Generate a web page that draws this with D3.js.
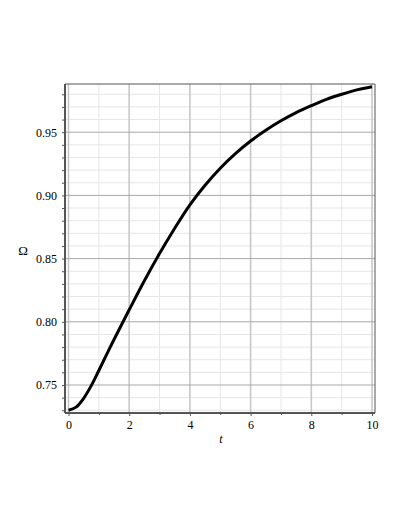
<!DOCTYPE html>
<html><head><meta charset="utf-8">
<script src="https://cdn.jsdelivr.net/npm/d3@7"></script>
<style>body{margin:0;background:#fff}svg{display:block}</style>
</head><body>
<script>
const tValues = [0,0.25,0.5,0.75,1,1.5,2,2.5,3,3.5,4,4.5,5,5.5,6,6.5,7,7.5,8,8.5,9,9.5,10];
const omegaValues = [0.7300,0.7325,0.7395,0.7495,0.7615,0.7860,0.8095,0.8325,0.8540,0.8740,0.8925,0.9080,0.9215,0.9330,0.9430,0.9515,0.9590,0.9655,0.9710,0.9760,0.9800,0.9835,0.9860];
const xTicks = [0,2,4,6,8,10];
const xMinor = [1,3,5,7,9];
const yTicks = [0.75,0.80,0.85,0.90,0.95];
const yTickLabels = ["0.75","0.80","0.85","0.90","0.95"];
const yMinor = [0.73,0.74,0.76,0.77,0.78,0.79,0.81,0.82,0.83,0.84,0.86,0.87,0.88,0.89,0.91,0.92,0.93,0.94,0.96,0.97,0.98];

const W=409,H=529;
const L=65,R=375,T=84,B=413;
const svg=d3.select("body").append("svg").attr("width",W).attr("height",H);
const x=d3.scaleLinear().domain([0,10]).range([68.5,372]);
const y=d3.scaleLinear().domain([0.75,0.95]).range([385,132.2]);

const g=svg.append("g");
g.selectAll(".vmin").data(xMinor).enter().append("line")
 .attr("x1",d=>x(d)).attr("x2",d=>x(d)).attr("y1",T).attr("y2",B)
 .attr("stroke","#e6e6e6").attr("stroke-width",1);
g.selectAll(".hmin").data(yMinor).enter().append("line")
 .attr("x1",L).attr("x2",R).attr("y1",d=>y(d)).attr("y2",d=>y(d))
 .attr("stroke","#e6e6e6").attr("stroke-width",1);
g.selectAll(".vmaj").data(xTicks).enter().append("line")
 .attr("x1",d=>x(d)).attr("x2",d=>x(d)).attr("y1",T).attr("y2",B)
 .attr("stroke","#c8c8c8").attr("stroke-width",1.6);
g.selectAll(".hmaj").data(yTicks).enter().append("line")
 .attr("x1",L).attr("x2",R).attr("y1",d=>y(d)).attr("y2",d=>y(d))
 .attr("stroke","#a8a8a8").attr("stroke-width",1);

const data=tValues.map((t,i)=>[t,omegaValues[i]]);
svg.append("path").datum(data)
 .attr("d",d3.line().x(d=>x(d[0])).y(d=>y(d[1])).curve(d3.curveCatmullRom.alpha(0.5)))
 .attr("fill","none").attr("stroke","#000").attr("stroke-width",3);

svg.append("line").attr("x1",L).attr("x2",R).attr("y1",T).attr("y2",T).attr("stroke","#555").attr("stroke-width",1);
svg.append("line").attr("x1",R).attr("x2",R).attr("y1",T).attr("y2",B).attr("stroke","#555").attr("stroke-width",1);

const font="'Liberation Serif','DejaVu Serif',serif";
const xAxis=d3.axisBottom(x).tickValues(xTicks).tickSize(3).tickPadding(4).tickFormat(d3.format("d"));
const xa=svg.append("g").attr("transform",`translate(0,${B})`).call(xAxis);
xa.select(".domain").attr("d",`M${L},0H${R}`).attr("stroke","#555").attr("stroke-width",2);
xa.selectAll(".tick line").attr("stroke","#555");
xa.selectAll("text").attr("font-family",font).attr("font-size",12).attr("fill","#000");
const xAxisMinor=d3.axisBottom(x).tickValues(xMinor).tickSize(2).tickFormat("");
const xm=svg.append("g").attr("transform",`translate(0,${B})`).call(xAxisMinor);
xm.select(".domain").remove();
xm.selectAll(".tick line").attr("stroke","#555");

const yAxis=d3.axisLeft(y).tickValues(yTicks).tickSize(3).tickPadding(5).tickFormat((d,i)=>yTickLabels[i]);
const ya=svg.append("g").attr("transform",`translate(${L},0)`).call(yAxis);
ya.select(".domain").attr("d",`M0,${T}V${B}`).attr("stroke","#555").attr("stroke-width",2);
ya.selectAll(".tick line").attr("stroke","#555");
ya.selectAll("text").attr("font-family",font).attr("font-size",12).attr("fill","#000");
const yAxisMinor=d3.axisLeft(y).tickValues(yMinor).tickSize(3).tickFormat("");
const ym=svg.append("g").attr("transform",`translate(${L},0)`).call(yAxisMinor);
ym.select(".domain").remove();
ym.selectAll(".tick line").attr("stroke","#555");

svg.append("text").attr("x",221).attr("y",443).attr("text-anchor","middle")
 .attr("font-family",font).attr("font-size",12).attr("font-style","italic").text("t");
svg.append("text").attr("x",23).attr("y",255).attr("text-anchor","middle")
 .attr("font-family",font).attr("font-size",13).text("Ω");
</script>
</body></html>
